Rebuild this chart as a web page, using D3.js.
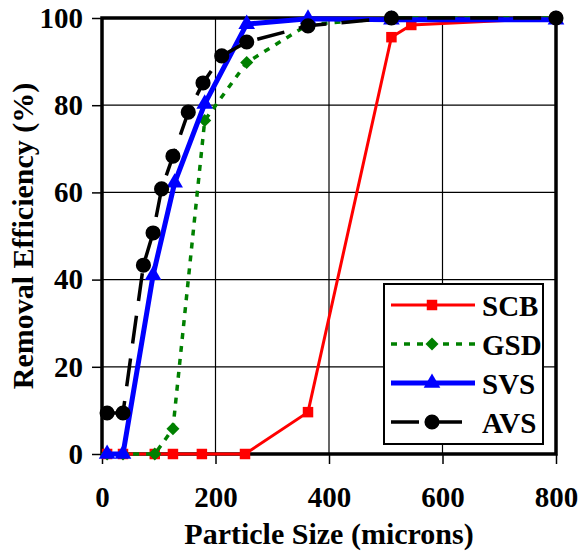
<!DOCTYPE html>
<html>
<head>
<meta charset="utf-8">
<script src="https://cdn.jsdelivr.net/npm/d3@7"></script>
</head>
<body style="margin:0">
<svg class="chart" width="582" height="554" font-family="'Liberation Serif'" font-weight="bold"></svg>
<script>
var xTicks = [0, 200, 400, 600, 800];
var yTicks = [0, 20, 40, 60, 80, 100];

var seriesNames = ["SCB", "GSD", "SVS", "AVS"];

var scbSize = [9, 37, 93, 125, 176, 252, 363, 510, 545, 800];
var scbEff  = [0, 0, 0, 0, 0, 0, 9.6, 95.6, 98.4, 100];

var gsdSize = [9, 37, 93, 125, 181, 255, 363, 510, 800];
var gsdEff  = [0, 0, 0, 5.8, 76.5, 89.8, 98.5, 100, 100];

var svsSize = [9, 37, 90, 128, 181, 255, 363, 510, 800];
var svsEff  = [0, 0, 41, 62.2, 80.3, 98.6, 99.8, 99.6, 99.6];

var avsSize = [9, 37, 73, 90, 105, 125, 152, 178, 211, 255, 363, 510, 800];
var avsEff  = [9.4, 9.4, 43.3, 50.7, 60.8, 68.3, 78.4, 85.1, 91.3, 94.5, 98.2, 100, 100];

var margin = {top: 18, bottom: 100, left: 102, right: 26},
    width = 582 - margin.left - margin.right,
    height = 554 - margin.top - margin.bottom;

var svg = d3.select(".chart");

var chart = svg.append("g")
    .attr("transform", "translate(" + margin.left + "," + margin.top + ")");

var x = d3.scaleLinear().domain([0, 800]).range([0, width]);
var y = d3.scaleLinear().domain([0, 100]).range([height, 0]);

function serifText(sel, size) {
  sel.attr("font-family", "'Liberation Serif'")
     .attr("font-size", size)
     .attr("font-weight", "bold")
     .style("font-family", "Liberation Serif")
     .style("font-weight", "bold")
     .style("font-size", size + "px");
  return sel;
}

// grid
chart.append("g")
    .selectAll("line")
    .data(xTicks.slice(1, -1))
  .enter().append("line")
    .attr("x1", function(d) { return x(d); })
    .attr("x2", function(d) { return x(d); })
    .attr("y1", 0)
    .attr("y2", height)
    .attr("stroke", "#000")
    .attr("stroke-width", 1.2);

chart.append("g")
    .selectAll("line")
    .data(yTicks.slice(1, -1))
  .enter().append("line")
    .attr("x1", 0)
    .attr("x2", width)
    .attr("y1", function(d) { return y(d); })
    .attr("y2", function(d) { return y(d); })
    .attr("stroke", "#000")
    .attr("stroke-width", 1.2);

// axes
var xAxis = chart.append("g")
    .attr("transform", "translate(0," + height + ")")
    .call(d3.axisBottom(x).tickValues(xTicks).tickSize(10).tickPadding(22).tickFormat(d3.format("d")));

var yAxis = chart.append("g")
    .call(d3.axisLeft(y).tickValues(yTicks).tickSize(10).tickPadding(9).tickFormat(d3.format("d")));

[xAxis, yAxis].forEach(function(a) {
  a.attr("font-family", "'Liberation Serif'").attr("font-size", 29);
  a.select(".domain").remove();
  a.selectAll("line").attr("stroke", "#000").attr("stroke-width", 1.5);
  serifText(a.selectAll("text"), 29);
});

// frame
chart.append("rect")
    .attr("width", width)
    .attr("height", height)
    .attr("fill", "none")
    .attr("stroke", "#000")
    .attr("stroke-width", 3.5);

var styles = {
  SCB: {color: "#ff0000", width: 3, dash: null, marker: d3.symbolSquare, size: 110, rot: 0},
  GSD: {color: "#008000", width: 3.5, dash: "6,7", marker: d3.symbolSquare, size: 85, rot: 45},
  SVS: {color: "#0000ff", width: 5, dash: null, marker: d3.symbolTriangle, size: 120, rot: 0},
  AVS: {color: "#000000", width: 3.5, dash: "28,15", marker: d3.symbolCircle, size: 180, rot: 0}
};

function pairs(xs, ys) {
  return xs.map(function(d, i) { return {size: d, eff: ys[i]}; });
}

var series = [
  {name: "SCB", values: pairs(scbSize, scbEff)},
  {name: "GSD", values: pairs(gsdSize, gsdEff)},
  {name: "SVS", values: pairs(svsSize, svsEff)},
  {name: "AVS", values: pairs(avsSize, avsEff)}
];

var valueline = d3.line()
    .x(function(d) { return x(d.size); })
    .y(function(d) { return y(d.eff); });

series.forEach(function(s) {
  var st = styles[s.name];
  chart.append("path")
      .data([s.values])
      .attr("d", valueline)
      .attr("fill", "none")
      .attr("stroke", st.color)
      .attr("stroke-width", st.width)
      .attr("stroke-dasharray", st.dash);

  chart.selectAll(".pt-" + s.name)
      .data(s.values)
    .enter().append("path")
      .attr("class", "pt-" + s.name)
      .attr("transform", function(d) { return "translate(" + x(d.size) + "," + y(d.eff) + ") rotate(" + st.rot + ")"; })
      .attr("d", d3.symbol().type(st.marker).size(st.size))
      .attr("fill", st.color);
});

// legend
var legend = svg.append("g")
    .attr("transform", "translate(384,284)");

legend.append("rect")
    .attr("width", 159)
    .attr("height", 160)
    .attr("fill", "#fff")
    .attr("stroke", "#000")
    .attr("stroke-width", 2);

var item = legend.selectAll(".item")
    .data(seriesNames)
  .enter().append("g")
    .attr("class", "item")
    .attr("transform", function(d, i) { return "translate(0," + (21 + i * 39) + ")"; });

item.append("line")
    .attr("x1", 7)
    .attr("x2", function(d) { return d === "AVS" ? 78 : 91; })
    .attr("y1", 0)
    .attr("y2", 0)
    .attr("stroke", function(d) { return styles[d].color; })
    .attr("stroke-width", function(d) { return styles[d].width; })
    .attr("stroke-dasharray", function(d) { return styles[d].dash; });

item.append("path")
    .attr("transform", function(d) { return "translate(48,0) rotate(" + styles[d].rot + ")"; })
    .attr("d", function(d) { return d3.symbol().type(styles[d].marker).size(styles[d].size)(); })
    .attr("fill", function(d) { return styles[d].color; });

serifText(item.append("text")
    .attr("x", 98)
    .attr("y", 11), 29)
    .text(function(d) { return d; });

// labels
serifText(svg.append("text")
    .attr("x", margin.left + width / 2)
    .attr("y", 544)
    .attr("text-anchor", "middle"), 30)
    .text("Particle Size (microns)");

serifText(svg.append("text")
    .attr("transform", "rotate(-90)")
    .attr("x", -(margin.top + height / 2))
    .attr("y", 33)
    .attr("text-anchor", "middle"), 30)
    .text("Removal Efficiency (%)");
</script>
</body>
</html>
